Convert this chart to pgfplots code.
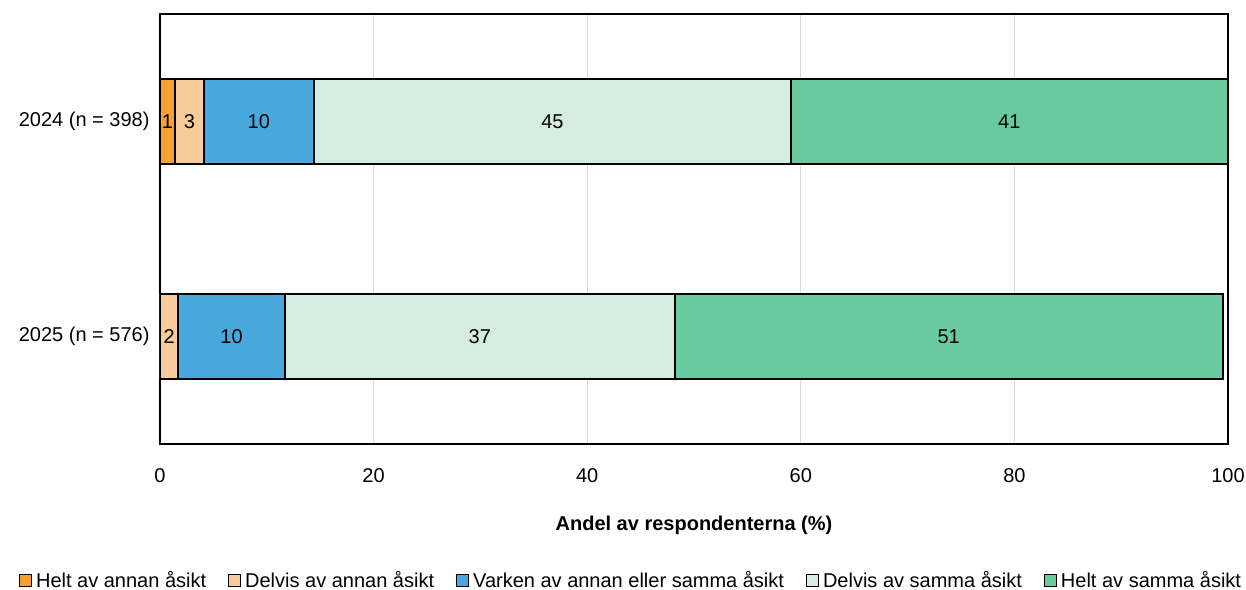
\documentclass[border=0pt]{standalone}
\usepackage{fontspec}
\setmainfont{Liberation Sans}
\usepackage{pgfplots}
\pgfplotsset{compat=1.18}
\usepackage{pgfplotstable}

\definecolor{c1}{HTML}{F7A134}
\definecolor{c2}{HTML}{F8CB9A}
\definecolor{c3}{HTML}{48A8DC}
\definecolor{c4}{HTML}{D5EDE0}
\definecolor{c5}{HTML}{69CAA0}
\definecolor{gridgray}{HTML}{D9D9D9}

% y: 1 = 2024, 0 = 2025
\pgfplotstableread{
y x label
1 1.4 1
0 0 {}
}\heltannan
\pgfplotstableread{
y x label
1 2.7 3
0 1.7 2
}\delvisannan
\pgfplotstableread{
y x label
1 10.3 10
0 10.0 10
}\varken
\pgfplotstableread{
y x label
1 44.7 45
0 36.5 37
}\delvissamma
\pgfplotstableread{
y x label
1 40.85 41
0 51.3 51
}\heltsamma

\begin{document}
\begin{tikzpicture}[font=\fontsize{10}{12}\selectfont]
\begin{axis}[
  scale only axis,
  width=534pt, height=215pt,
  xbar stacked,
  bar width=42.5pt,
  xmin=0, xmax=100, ymin=-0.5, ymax=1.5,
  xtick={0,20,...,100},
  ytick={0,1},
  yticklabels={2025 (n = 576), 2024 (n = 398)},
  xmajorgrids,
  grid style={draw=gridgray, line width=0.5pt},
  major tick length=0pt,
  axis line style={line width=0.8pt},
  /pgf/number format/assume math mode=true,
  xticklabel style={yshift=-8.5pt},
  yticklabel style={xshift=-1.7pt},
  xlabel={\textbf{Andel av respondenterna (\%)}},
  xlabel style={at={(axis description cs:0.5,-0.19)}, anchor=center},
  legend columns=5,
  legend style={at={(0.442,-0.318)}, anchor=center, draw=none,
    /tikz/every even column/.append style={column sep=9pt}},
  legend image code/.code={\draw[#1, line width=0.5pt] (0pt,-3pt) rectangle (6pt,3pt);},
  point meta=explicit symbolic,
  nodes near coords,
  every node near coord/.append style={anchor=center, text=black},
  every axis plot/.append style={draw=black, line width=0.9pt},
]
\addplot[fill=c1] table[x=x, y=y, meta=label] {\heltannan};
\addplot[fill=c2] table[x=x, y=y, meta=label] {\delvisannan};
\addplot[fill=c3] table[x=x, y=y, meta=label] {\varken};
\addplot[fill=c4] table[x=x, y=y, meta=label] {\delvissamma};
\addplot[fill=c5] table[x=x, y=y, meta=label] {\heltsamma};
\legend{Helt av annan åsikt, Delvis av annan åsikt, Varken av annan eller samma åsikt, Delvis av samma åsikt, Helt av samma åsikt}
\end{axis}
\pgfresetboundingbox
\useasboundingbox (current axis.south west) ++(-80pt,-72.5pt) rectangle ++(623pt,294.5pt);
\end{tikzpicture}
\end{document}
